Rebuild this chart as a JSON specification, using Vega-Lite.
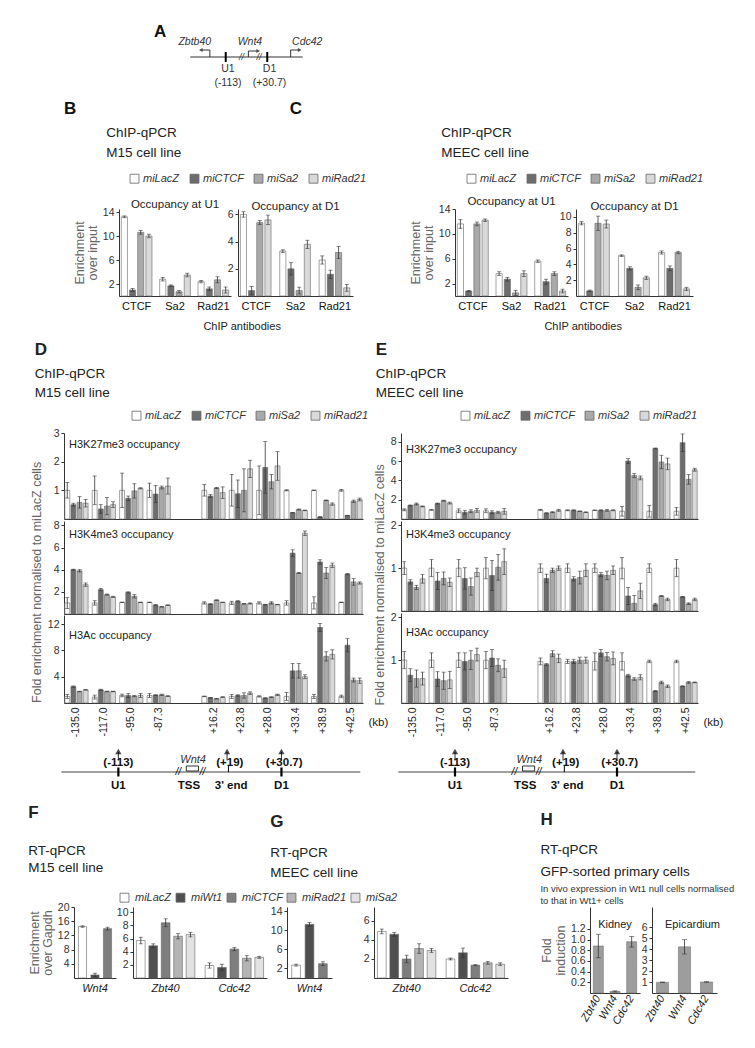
{
"$schema": "https://vega.github.io/schema/vega-lite/v6.json",
"background": "white",
"padding": 0,
"spacing": 8,
"config": {
 "view": {"stroke": null},
 "font": "Liberation Sans",
 "axis": {"grid": false, "labelFont": "Liberation Sans", "titleFont": "Liberation Sans", "labelFontSize": 10.5, "labelColor": "#333", "domainColor": "#333", "tickColor": "#333", "tickSize": 3, "labelPadding": 2, "titleFontWeight": "normal", "titleColor": "#666", "titleFontSize": 12.5, "titlePadding": 3},
 "title": {"font": "Liberation Sans", "subtitleFont": "Liberation Sans", "fontWeight": "normal", "color": "#222", "subtitleColor": "#222"},
 "legend": {"labelFont": "Liberation Sans"}
},
"resolve": {"scale": {"color": "independent", "xOffset": "independent"}, "legend": {"color": "independent"}},
"datasets": {
 "sch": [
  {"k":"seg","x":24.8,"x2":39.7,"y":5.7,"y2":5.7},
  {"k":"seg","x":27.4,"x2":27.4,"y":5.7,"y2":5.0},
  {"k":"seg","x":27.4,"x2":26.4,"y":5.0,"y2":5.0},
  {"k":"seg","x":32.5,"x2":32.5,"y":5.7,"y2":5.1},
  {"k":"seg","x":32.5,"x2":33.6,"y":5.1,"y2":5.1},
  {"k":"seg","x":38.1,"x2":38.1,"y":5.7,"y2":5.0},
  {"k":"seg","x":38.1,"x2":39.1,"y":5.0,"y2":5.0},
  {"k":"site","x":29.5,"x2":29.5,"y":5.2,"y2":6.2},
  {"k":"site","x":35.0,"x2":35.0,"y":5.2,"y2":6.2},
  {"k":"hl","x":26.2,"y":5.0},
  {"k":"hr","x":33.8,"y":5.1},
  {"k":"hr","x":39.3,"y":5.0},
  {"k":"letter","x":20.8,"y":3.2,"t":"A"},
  {"k":"letter","x":8.9,"y":10.9,"t":"B"},
  {"k":"letter","x":38.8,"y":10.9,"t":"C"},
  {"k":"gene","x":25.4,"y":4.2,"t":"Zbtb40"},
  {"k":"gene","x":32.7,"y":4.2,"t":"Wnt4"},
  {"k":"gene","x":40.3,"y":4.2,"t":"Cdc42"},
  {"k":"lab","x":29.8,"y":6.9,"t":"U1"},
  {"k":"lab","x":29.8,"y":8.3,"t":"(-113)"},
  {"k":"lab","x":35.3,"y":6.9,"t":"D1"},
  {"k":"lab","x":35.3,"y":8.3,"t":"(+30.7)"},
  {"k":"brk","x":31.6,"y":5.7,"t":"//"},
  {"k":"brk","x":33.9,"y":5.7,"t":"//"}
 ],
 "diag": [
  {"k":"line","x":-0.1,"x2":10.9,"y":0,"y2":0},
  {"k":"site","x":2.0,"x2":2.0,"y":-0.9,"y2":0.9},
  {"k":"site","x":8.0,"x2":8.0,"y":-0.9,"y2":0.9},
  {"k":"thin","x":6.05,"x2":6.05,"y":0,"y2":1.2},
  {"k":"arrow","x":2.0,"y":2.3,"y2":4.0},
  {"k":"arrow","x":6.0,"y":2.3,"y2":4.0},
  {"k":"arrow","x":8.0,"y":2.3,"y2":4.0},
  {"k":"head","x":2.0,"y":4.1},
  {"k":"head","x":6.0,"y":4.1},
  {"k":"head","x":8.0,"y":4.1},
  {"k":"box","x":4.5,"x2":4.95,"y":0.2,"y2":1.2},
  {"k":"brk","x":4.2,"y":0,"t":"//"},
  {"k":"brk","x":5.1,"y":0,"t":"//"},
  {"k":"lab","x":2.0,"y":1.8,"t":"(-113)"},
  {"k":"lab","x":2.0,"y":-2.7,"t":"U1"},
  {"k":"lab","x":4.6,"y":-2.7,"t":"TSS"},
  {"k":"lab","x":6.15,"y":-2.7,"t":"3' end"},
  {"k":"lab","x":6.1,"y":1.8,"t":"(+19)"},
  {"k":"lab","x":8.1,"y":1.8,"t":"(+30.7)"},
  {"k":"lab","x":8.0,"y":-2.7,"t":"D1"},
  {"k":"gene","x":4.75,"y":2.4,"t":"Wnt4"}
 ],
 "chip": [
  {"p":"BU1","g":"CTCF","s":"miLacZ","v":13.2,"e":0.15},{"p":"BU1","g":"CTCF","s":"miCTCF","v":1.0,"e":0.25},{"p":"BU1","g":"CTCF","s":"miSa2","v":10.6,"e":0.3},{"p":"BU1","g":"CTCF","s":"miRad21","v":10.0,"e":0.3},
  {"p":"BU1","g":"Sa2","s":"miLacZ","v":2.8,"e":0.3},{"p":"BU1","g":"Sa2","s":"miCTCF","v":1.7,"e":0.15},{"p":"BU1","g":"Sa2","s":"miSa2","v":0.7,"e":0.2},{"p":"BU1","g":"Sa2","s":"miRad21","v":3.5,"e":0.3},
  {"p":"BU1","g":"Rad21","s":"miLacZ","v":2.4,"e":0.2},{"p":"BU1","g":"Rad21","s":"miCTCF","v":1.2,"e":0.3},{"p":"BU1","g":"Rad21","s":"miSa2","v":2.7,"e":0.5},{"p":"BU1","g":"Rad21","s":"miRad21","v":1.0,"e":0.5},
  {"p":"BD1","g":"CTCF","s":"miLacZ","v":6.0,"e":0.2},{"p":"BD1","g":"CTCF","s":"miCTCF","v":0.4,"e":0.3},{"p":"BD1","g":"CTCF","s":"miSa2","v":5.4,"e":0.15},{"p":"BD1","g":"CTCF","s":"miRad21","v":5.6,"e":0.35},
  {"p":"BD1","g":"Sa2","s":"miLacZ","v":3.3,"e":0.1},{"p":"BD1","g":"Sa2","s":"miCTCF","v":2.0,"e":0.45},{"p":"BD1","g":"Sa2","s":"miSa2","v":0.4,"e":0.25},{"p":"BD1","g":"Sa2","s":"miRad21","v":3.8,"e":0.3},
  {"p":"BD1","g":"Rad21","s":"miLacZ","v":2.65,"e":0.3},{"p":"BD1","g":"Rad21","s":"miCTCF","v":1.6,"e":0.3},{"p":"BD1","g":"Rad21","s":"miSa2","v":3.2,"e":0.45},{"p":"BD1","g":"Rad21","s":"miRad21","v":0.6,"e":0.25},
  {"p":"CU1","g":"CTCF","s":"miLacZ","v":11.6,"e":0.7},{"p":"CU1","g":"CTCF","s":"miCTCF","v":0.8,"e":0.1},{"p":"CU1","g":"CTCF","s":"miSa2","v":11.6,"e":0.3},{"p":"CU1","g":"CTCF","s":"miRad21","v":12.2,"e":0.2},
  {"p":"CU1","g":"Sa2","s":"miLacZ","v":3.6,"e":0.3},{"p":"CU1","g":"Sa2","s":"miCTCF","v":2.7,"e":0.3},{"p":"CU1","g":"Sa2","s":"miSa2","v":0.5,"e":0.4},{"p":"CU1","g":"Sa2","s":"miRad21","v":3.6,"e":0.45},
  {"p":"CU1","g":"Rad21","s":"miLacZ","v":5.6,"e":0.2},{"p":"CU1","g":"Rad21","s":"miCTCF","v":2.3,"e":0.4},{"p":"CU1","g":"Rad21","s":"miSa2","v":3.6,"e":0.3},{"p":"CU1","g":"Rad21","s":"miRad21","v":0.8,"e":0.3},
  {"p":"CD1","g":"CTCF","s":"miLacZ","v":9.2,"e":0.2},{"p":"CD1","g":"CTCF","s":"miCTCF","v":0.65,"e":0.1},{"p":"CD1","g":"CTCF","s":"miSa2","v":9.2,"e":0.9},{"p":"CD1","g":"CTCF","s":"miRad21","v":9.1,"e":0.5},
  {"p":"CD1","g":"Sa2","s":"miLacZ","v":5.1,"e":0.1},{"p":"CD1","g":"Sa2","s":"miCTCF","v":3.5,"e":0.2},{"p":"CD1","g":"Sa2","s":"miSa2","v":1.1,"e":0.3},{"p":"CD1","g":"Sa2","s":"miRad21","v":2.3,"e":0.2},
  {"p":"CD1","g":"Rad21","s":"miLacZ","v":5.5,"e":0.2},{"p":"CD1","g":"Rad21","s":"miCTCF","v":3.5,"e":0.3},{"p":"CD1","g":"Rad21","s":"miSa2","v":5.5,"e":0.15},{"p":"CD1","g":"Rad21","s":"miRad21","v":0.9,"e":0.2},

  {"p":"DK27","g":"-135.0","s":"miLacZ","v":1.0,"e":0.27},{"p":"DK27","g":"-135.0","s":"miCTCF","v":0.5,"e":0.05},{"p":"DK27","g":"-135.0","s":"miSa2","v":0.58,"e":0.2},{"p":"DK27","g":"-135.0","s":"miRad21","v":0.55,"e":0.13},
  {"p":"DK27","g":"-117.0","s":"miLacZ","v":1.0,"e":0.5},{"p":"DK27","g":"-117.0","s":"miCTCF","v":0.35,"e":0.15},{"p":"DK27","g":"-117.0","s":"miSa2","v":0.45,"e":0.3},{"p":"DK27","g":"-117.0","s":"miRad21","v":0.5,"e":0.1},
  {"p":"DK27","g":"-95.0","s":"miLacZ","v":1.0,"e":0.6},{"p":"DK27","g":"-95.0","s":"miCTCF","v":0.72,"e":0.08},{"p":"DK27","g":"-95.0","s":"miSa2","v":0.98,"e":0.25},{"p":"DK27","g":"-95.0","s":"miRad21","v":1.07,"e":0.02},
  {"p":"DK27","g":"-87.3","s":"miLacZ","v":1.0,"e":0.25},{"p":"DK27","g":"-87.3","s":"miCTCF","v":0.87,"e":0.3},{"p":"DK27","g":"-87.3","s":"miSa2","v":1.1,"e":0.05},{"p":"DK27","g":"-87.3","s":"miRad21","v":1.15,"e":0.28},
  {"p":"DK27","g":"+16.2","s":"miLacZ","v":1.0,"e":0.2},{"p":"DK27","g":"+16.2","s":"miCTCF","v":0.8,"e":0.05},{"p":"DK27","g":"+16.2","s":"miSa2","v":1.08,"e":0.02},{"p":"DK27","g":"+16.2","s":"miRad21","v":0.92,"e":0.2},
  {"p":"DK27","g":"+23.8","s":"miLacZ","v":1.0,"e":0.55},{"p":"DK27","g":"+23.8","s":"miCTCF","v":0.88,"e":0.48},{"p":"DK27","g":"+23.8","s":"miSa2","v":1.0,"e":0.75},{"p":"DK27","g":"+23.8","s":"miRad21","v":1.75,"e":0.3},
  {"p":"DK27","g":"+28.0","s":"miLacZ","v":1.0,"e":0.85},{"p":"DK27","g":"+28.0","s":"miCTCF","v":1.8,"e":0.9},{"p":"DK27","g":"+28.0","s":"miSa2","v":1.3,"e":0.25},{"p":"DK27","g":"+28.0","s":"miRad21","v":1.85,"e":0.5},
  {"p":"DK27","g":"+33.4","s":"miLacZ","v":1.0,"e":0.02},{"p":"DK27","g":"+33.4","s":"miCTCF","v":0.22,"e":0.01},{"p":"DK27","g":"+33.4","s":"miSa2","v":0.33,"e":0.02},{"p":"DK27","g":"+33.4","s":"miRad21","v":0.3,"e":0.01},
  {"p":"DK27","g":"+38.9","s":"miLacZ","v":1.0,"e":0.01},{"p":"DK27","g":"+38.9","s":"miCTCF","v":0.07,"e":0.01},{"p":"DK27","g":"+38.9","s":"miSa2","v":0.65,"e":0.01},{"p":"DK27","g":"+38.9","s":"miRad21","v":0.52,"e":0.04},
  {"p":"DK27","g":"+42.5","s":"miLacZ","v":1.0,"e":0.03},{"p":"DK27","g":"+42.5","s":"miCTCF","v":0.12,"e":0.01},{"p":"DK27","g":"+42.5","s":"miSa2","v":0.62,"e":0.04},{"p":"DK27","g":"+42.5","s":"miRad21","v":0.68,"e":0.05},

  {"p":"DK4","g":"-135.0","s":"miLacZ","v":1.0,"e":0.5},{"p":"DK4","g":"-135.0","s":"miCTCF","v":4.0,"e":0.05},{"p":"DK4","g":"-135.0","s":"miSa2","v":3.9,"e":0.1},{"p":"DK4","g":"-135.0","s":"miRad21","v":2.65,"e":0.15},
  {"p":"DK4","g":"-117.0","s":"miLacZ","v":1.0,"e":0.2},{"p":"DK4","g":"-117.0","s":"miCTCF","v":2.2,"e":0.1},{"p":"DK4","g":"-117.0","s":"miSa2","v":1.75,"e":0.05},{"p":"DK4","g":"-117.0","s":"miRad21","v":1.55,"e":0.05},
  {"p":"DK4","g":"-95.0","s":"miLacZ","v":1.05,"e":0.02},{"p":"DK4","g":"-95.0","s":"miCTCF","v":1.95,"e":0.05},{"p":"DK4","g":"-95.0","s":"miSa2","v":1.6,"e":0.15},{"p":"DK4","g":"-95.0","s":"miRad21","v":1.05,"e":0.02},
  {"p":"DK4","g":"-87.3","s":"miLacZ","v":1.05,"e":0.02},{"p":"DK4","g":"-87.3","s":"miCTCF","v":0.8,"e":0.05},{"p":"DK4","g":"-87.3","s":"miSa2","v":0.65,"e":0.03},{"p":"DK4","g":"-87.3","s":"miRad21","v":0.8,"e":0.02},
  {"p":"DK4","g":"+16.2","s":"miLacZ","v":1.0,"e":0.1},{"p":"DK4","g":"+16.2","s":"miCTCF","v":0.9,"e":0.03},{"p":"DK4","g":"+16.2","s":"miSa2","v":1.25,"e":0.03},{"p":"DK4","g":"+16.2","s":"miRad21","v":1.05,"e":0.02},
  {"p":"DK4","g":"+23.8","s":"miLacZ","v":1.0,"e":0.15},{"p":"DK4","g":"+23.8","s":"miCTCF","v":1.15,"e":0.05},{"p":"DK4","g":"+23.8","s":"miSa2","v":0.92,"e":0.03},{"p":"DK4","g":"+23.8","s":"miRad21","v":0.95,"e":0.05},
  {"p":"DK4","g":"+28.0","s":"miLacZ","v":1.0,"e":0.1},{"p":"DK4","g":"+28.0","s":"miCTCF","v":0.85,"e":0.03},{"p":"DK4","g":"+28.0","s":"miSa2","v":1.0,"e":0.1},{"p":"DK4","g":"+28.0","s":"miRad21","v":0.85,"e":0.02},
  {"p":"DK4","g":"+33.4","s":"miLacZ","v":1.0,"e":0.2},{"p":"DK4","g":"+33.4","s":"miCTCF","v":5.5,"e":0.3},{"p":"DK4","g":"+33.4","s":"miSa2","v":3.7,"e":0.05},{"p":"DK4","g":"+33.4","s":"miRad21","v":7.3,"e":0.2},
  {"p":"DK4","g":"+38.9","s":"miLacZ","v":1.0,"e":0.55},{"p":"DK4","g":"+38.9","s":"miCTCF","v":4.7,"e":0.2},{"p":"DK4","g":"+38.9","s":"miSa2","v":3.7,"e":0.5},{"p":"DK4","g":"+38.9","s":"miRad21","v":4.4,"e":0.2},
  {"p":"DK4","g":"+42.5","s":"miLacZ","v":1.05,"e":0.02},{"p":"DK4","g":"+42.5","s":"miCTCF","v":3.6,"e":0.05},{"p":"DK4","g":"+42.5","s":"miSa2","v":2.9,"e":0.3},{"p":"DK4","g":"+42.5","s":"miRad21","v":2.8,"e":0.1},

  {"p":"DAc","g":"-135.0","s":"miLacZ","v":1.0,"e":0.3},{"p":"DAc","g":"-135.0","s":"miCTCF","v":2.5,"e":0.1},{"p":"DAc","g":"-135.0","s":"miSa2","v":1.75,"e":0.05},{"p":"DAc","g":"-135.0","s":"miRad21","v":2.0,"e":0.05},
  {"p":"DAc","g":"-117.0","s":"miLacZ","v":0.9,"e":0.3},{"p":"DAc","g":"-117.0","s":"miCTCF","v":2.0,"e":0.1},{"p":"DAc","g":"-117.0","s":"miSa2","v":1.75,"e":0.05},{"p":"DAc","g":"-117.0","s":"miRad21","v":1.75,"e":0.05},
  {"p":"DAc","g":"-95.0","s":"miLacZ","v":1.15,"e":0.2},{"p":"DAc","g":"-95.0","s":"miCTCF","v":1.15,"e":0.3},{"p":"DAc","g":"-95.0","s":"miSa2","v":1.05,"e":0.1},{"p":"DAc","g":"-95.0","s":"miRad21","v":1.15,"e":0.3},
  {"p":"DAc","g":"-87.3","s":"miLacZ","v":1.15,"e":0.3},{"p":"DAc","g":"-87.3","s":"miCTCF","v":1.2,"e":0.05},{"p":"DAc","g":"-87.3","s":"miSa2","v":1.25,"e":0.1},{"p":"DAc","g":"-87.3","s":"miRad21","v":1.05,"e":0.05},
  {"p":"DAc","g":"+16.2","s":"miLacZ","v":1.0,"e":0.05},{"p":"DAc","g":"+16.2","s":"miCTCF","v":0.8,"e":0.05},{"p":"DAc","g":"+16.2","s":"miSa2","v":0.65,"e":0.05},{"p":"DAc","g":"+16.2","s":"miRad21","v":0.9,"e":0.05},
  {"p":"DAc","g":"+23.8","s":"miLacZ","v":1.0,"e":0.3},{"p":"DAc","g":"+23.8","s":"miCTCF","v":1.15,"e":0.1},{"p":"DAc","g":"+23.8","s":"miSa2","v":1.15,"e":0.4},{"p":"DAc","g":"+23.8","s":"miRad21","v":1.5,"e":0.2},
  {"p":"DAc","g":"+28.0","s":"miLacZ","v":1.0,"e":0.1},{"p":"DAc","g":"+28.0","s":"miCTCF","v":0.75,"e":0.05},{"p":"DAc","g":"+28.0","s":"miSa2","v":0.9,"e":0.05},{"p":"DAc","g":"+28.0","s":"miRad21","v":1.25,"e":0.1},
  {"p":"DAc","g":"+33.4","s":"miLacZ","v":1.0,"e":0.6},{"p":"DAc","g":"+33.4","s":"miCTCF","v":4.9,"e":1.1},{"p":"DAc","g":"+33.4","s":"miSa2","v":4.9,"e":1.1},{"p":"DAc","g":"+33.4","s":"miRad21","v":4.0,"e":0.3},
  {"p":"DAc","g":"+38.9","s":"miLacZ","v":1.0,"e":0.3},{"p":"DAc","g":"+38.9","s":"miCTCF","v":11.5,"e":0.6},{"p":"DAc","g":"+38.9","s":"miSa2","v":7.1,"e":0.7},{"p":"DAc","g":"+38.9","s":"miRad21","v":7.4,"e":0.7},
  {"p":"DAc","g":"+42.5","s":"miLacZ","v":1.0,"e":0.2},{"p":"DAc","g":"+42.5","s":"miCTCF","v":8.8,"e":1.0},{"p":"DAc","g":"+42.5","s":"miSa2","v":3.5,"e":0.3},{"p":"DAc","g":"+42.5","s":"miRad21","v":3.4,"e":0.4},

  {"p":"EK27","g":"-135.0","s":"miLacZ","v":0.95,"e":0.1},{"p":"EK27","g":"-135.0","s":"miCTCF","v":1.4,"e":0.05},{"p":"EK27","g":"-135.0","s":"miSa2","v":1.55,"e":0.1},{"p":"EK27","g":"-135.0","s":"miRad21","v":1.3,"e":0.05},
  {"p":"EK27","g":"-117.0","s":"miLacZ","v":0.95,"e":0.05},{"p":"EK27","g":"-117.0","s":"miCTCF","v":1.6,"e":0.05},{"p":"EK27","g":"-117.0","s":"miSa2","v":1.9,"e":0.05},{"p":"EK27","g":"-117.0","s":"miRad21","v":1.65,"e":0.1},
  {"p":"EK27","g":"-95.0","s":"miLacZ","v":0.85,"e":0.2},{"p":"EK27","g":"-95.0","s":"miCTCF","v":0.7,"e":0.2},{"p":"EK27","g":"-95.0","s":"miSa2","v":0.8,"e":0.15},{"p":"EK27","g":"-95.0","s":"miRad21","v":0.9,"e":0.2},
  {"p":"EK27","g":"-87.3","s":"miLacZ","v":0.85,"e":0.2},{"p":"EK27","g":"-87.3","s":"miCTCF","v":0.7,"e":0.15},{"p":"EK27","g":"-87.3","s":"miSa2","v":0.7,"e":0.1},{"p":"EK27","g":"-87.3","s":"miRad21","v":0.8,"e":0.3},
  {"p":"EK27","g":"+16.2","s":"miLacZ","v":0.95,"e":0.05},{"p":"EK27","g":"+16.2","s":"miCTCF","v":0.6,"e":0.05},{"p":"EK27","g":"+16.2","s":"miSa2","v":0.7,"e":0.05},{"p":"EK27","g":"+16.2","s":"miRad21","v":0.9,"e":0.1},
  {"p":"EK27","g":"+23.8","s":"miLacZ","v":0.9,"e":0.05},{"p":"EK27","g":"+23.8","s":"miCTCF","v":0.9,"e":0.05},{"p":"EK27","g":"+23.8","s":"miSa2","v":0.8,"e":0.03},{"p":"EK27","g":"+23.8","s":"miRad21","v":0.7,"e":0.03},
  {"p":"EK27","g":"+28.0","s":"miLacZ","v":0.9,"e":0.03},{"p":"EK27","g":"+28.0","s":"miCTCF","v":0.9,"e":0.05},{"p":"EK27","g":"+28.0","s":"miSa2","v":0.9,"e":0.1},{"p":"EK27","g":"+28.0","s":"miRad21","v":0.9,"e":0.05},
  {"p":"EK27","g":"+33.4","s":"miLacZ","v":0.8,"e":0.5},{"p":"EK27","g":"+33.4","s":"miCTCF","v":6.0,"e":0.25},{"p":"EK27","g":"+33.4","s":"miSa2","v":4.5,"e":0.2},{"p":"EK27","g":"+33.4","s":"miRad21","v":4.25,"e":0.2},
  {"p":"EK27","g":"+38.9","s":"miLacZ","v":0.8,"e":0.6},{"p":"EK27","g":"+38.9","s":"miCTCF","v":7.3,"e":0.05},{"p":"EK27","g":"+38.9","s":"miSa2","v":5.9,"e":0.7},{"p":"EK27","g":"+38.9","s":"miRad21","v":5.7,"e":0.6},
  {"p":"EK27","g":"+42.5","s":"miLacZ","v":0.8,"e":0.4},{"p":"EK27","g":"+42.5","s":"miCTCF","v":7.9,"e":0.9},{"p":"EK27","g":"+42.5","s":"miSa2","v":4.1,"e":0.5},{"p":"EK27","g":"+42.5","s":"miRad21","v":5.1,"e":0.15},

  {"p":"EK4","g":"-135.0","s":"miLacZ","v":1.0,"e":0.15},{"p":"EK4","g":"-135.0","s":"miCTCF","v":0.68,"e":0.05},{"p":"EK4","g":"-135.0","s":"miSa2","v":0.55,"e":0.05},{"p":"EK4","g":"-135.0","s":"miRad21","v":0.75,"e":0.1},
  {"p":"EK4","g":"-117.0","s":"miLacZ","v":1.0,"e":0.2},{"p":"EK4","g":"-117.0","s":"miCTCF","v":0.7,"e":0.2},{"p":"EK4","g":"-117.0","s":"miSa2","v":0.76,"e":0.15},{"p":"EK4","g":"-117.0","s":"miRad21","v":0.67,"e":0.1},
  {"p":"EK4","g":"-95.0","s":"miLacZ","v":1.0,"e":0.2},{"p":"EK4","g":"-95.0","s":"miCTCF","v":0.76,"e":0.25},{"p":"EK4","g":"-95.0","s":"miSa2","v":0.57,"e":0.2},{"p":"EK4","g":"-95.0","s":"miRad21","v":0.9,"e":0.1},
  {"p":"EK4","g":"-87.3","s":"miLacZ","v":1.0,"e":0.25},{"p":"EK4","g":"-87.3","s":"miCTCF","v":0.83,"e":0.35},{"p":"EK4","g":"-87.3","s":"miSa2","v":1.02,"e":0.3},{"p":"EK4","g":"-87.3","s":"miRad21","v":1.15,"e":0.3},
  {"p":"EK4","g":"+16.2","s":"miLacZ","v":1.0,"e":0.1},{"p":"EK4","g":"+16.2","s":"miCTCF","v":0.76,"e":0.1},{"p":"EK4","g":"+16.2","s":"miSa2","v":0.95,"e":0.05},{"p":"EK4","g":"+16.2","s":"miRad21","v":1.0,"e":0.05},
  {"p":"EK4","g":"+23.8","s":"miLacZ","v":1.0,"e":0.1},{"p":"EK4","g":"+23.8","s":"miCTCF","v":0.75,"e":0.05},{"p":"EK4","g":"+23.8","s":"miSa2","v":0.78,"e":0.15},{"p":"EK4","g":"+23.8","s":"miRad21","v":0.95,"e":0.15},
  {"p":"EK4","g":"+28.0","s":"miLacZ","v":1.0,"e":0.1},{"p":"EK4","g":"+28.0","s":"miCTCF","v":0.85,"e":0.05},{"p":"EK4","g":"+28.0","s":"miSa2","v":0.83,"e":0.1},{"p":"EK4","g":"+28.0","s":"miRad21","v":0.95,"e":0.1},
  {"p":"EK4","g":"+33.4","s":"miLacZ","v":1.0,"e":0.25},{"p":"EK4","g":"+33.4","s":"miCTCF","v":0.35,"e":0.2},{"p":"EK4","g":"+33.4","s":"miSa2","v":0.18,"e":0.18},{"p":"EK4","g":"+33.4","s":"miRad21","v":0.47,"e":0.18},
  {"p":"EK4","g":"+38.9","s":"miLacZ","v":1.0,"e":0.1},{"p":"EK4","g":"+38.9","s":"miCTCF","v":0.15,"e":0.03},{"p":"EK4","g":"+38.9","s":"miSa2","v":0.35,"e":0.01},{"p":"EK4","g":"+38.9","s":"miRad21","v":0.27,"e":0.03},
  {"p":"EK4","g":"+42.5","s":"miLacZ","v":1.0,"e":0.2},{"p":"EK4","g":"+42.5","s":"miCTCF","v":0.33,"e":0.01},{"p":"EK4","g":"+42.5","s":"miSa2","v":0.17,"e":0.02},{"p":"EK4","g":"+42.5","s":"miRad21","v":0.27,"e":0.03},

  {"p":"EAc","g":"-135.0","s":"miLacZ","v":1.0,"e":0.2},{"p":"EAc","g":"-135.0","s":"miCTCF","v":0.65,"e":0.15},{"p":"EAc","g":"-135.0","s":"miSa2","v":0.57,"e":0.2},{"p":"EAc","g":"-135.0","s":"miRad21","v":0.57,"e":0.15},
  {"p":"EAc","g":"-117.0","s":"miLacZ","v":1.0,"e":0.17},{"p":"EAc","g":"-117.0","s":"miCTCF","v":0.56,"e":0.17},{"p":"EAc","g":"-117.0","s":"miSa2","v":0.52,"e":0.2},{"p":"EAc","g":"-117.0","s":"miRad21","v":0.54,"e":0.2},
  {"p":"EAc","g":"-95.0","s":"miLacZ","v":1.0,"e":0.17},{"p":"EAc","g":"-95.0","s":"miCTCF","v":0.97,"e":0.2},{"p":"EAc","g":"-95.0","s":"miSa2","v":1.0,"e":0.22},{"p":"EAc","g":"-95.0","s":"miRad21","v":1.13,"e":0.15},
  {"p":"EAc","g":"-87.3","s":"miLacZ","v":1.0,"e":0.2},{"p":"EAc","g":"-87.3","s":"miCTCF","v":1.05,"e":0.2},{"p":"EAc","g":"-87.3","s":"miSa2","v":0.88,"e":0.15},{"p":"EAc","g":"-87.3","s":"miRad21","v":0.8,"e":0.2},
  {"p":"EAc","g":"+16.2","s":"miLacZ","v":0.97,"e":0.08},{"p":"EAc","g":"+16.2","s":"miCTCF","v":0.9,"e":0.02},{"p":"EAc","g":"+16.2","s":"miSa2","v":1.15,"e":0.07},{"p":"EAc","g":"+16.2","s":"miRad21","v":1.04,"e":0.1},
  {"p":"EAc","g":"+23.8","s":"miLacZ","v":0.97,"e":0.05},{"p":"EAc","g":"+23.8","s":"miCTCF","v":0.97,"e":0.05},{"p":"EAc","g":"+23.8","s":"miSa2","v":1.0,"e":0.07},{"p":"EAc","g":"+23.8","s":"miRad21","v":1.0,"e":0.07},
  {"p":"EAc","g":"+28.0","s":"miLacZ","v":0.97,"e":0.2},{"p":"EAc","g":"+28.0","s":"miCTCF","v":1.17,"e":0.08},{"p":"EAc","g":"+28.0","s":"miSa2","v":1.08,"e":0.1},{"p":"EAc","g":"+28.0","s":"miRad21","v":1.04,"e":0.15},
  {"p":"EAc","g":"+33.4","s":"miLacZ","v":0.97,"e":0.2},{"p":"EAc","g":"+33.4","s":"miCTCF","v":0.64,"e":0.03},{"p":"EAc","g":"+33.4","s":"miSa2","v":0.56,"e":0.03},{"p":"EAc","g":"+33.4","s":"miRad21","v":0.6,"e":0.06},
  {"p":"EAc","g":"+38.9","s":"miLacZ","v":0.97,"e":0.03},{"p":"EAc","g":"+38.9","s":"miCTCF","v":0.28,"e":0.01},{"p":"EAc","g":"+38.9","s":"miSa2","v":0.48,"e":0.03},{"p":"EAc","g":"+38.9","s":"miRad21","v":0.39,"e":0.03},
  {"p":"EAc","g":"+42.5","s":"miLacZ","v":0.97,"e":0.03},{"p":"EAc","g":"+42.5","s":"miCTCF","v":0.39,"e":0.01},{"p":"EAc","g":"+42.5","s":"miSa2","v":0.48,"e":0.02},{"p":"EAc","g":"+42.5","s":"miRad21","v":0.48,"e":0.01}
 ],
 "rt": [
  {"p":"FW","g":"Wnt4","s":"miLacZ","v":14.5,"e":0.2},{"p":"FW","g":"Wnt4","s":"miWt1","v":0.85,"e":0.5},{"p":"FW","g":"Wnt4","s":"miCTCF","v":13.9,"e":0.4},
  {"p":"FZ","g":"Zbt40","s":"miLacZ","v":5.7,"e":0.5},{"p":"FZ","g":"Zbt40","s":"miWt1","v":4.9,"e":0.3},{"p":"FZ","g":"Zbt40","s":"miCTCF","v":8.4,"e":0.6},{"p":"FZ","g":"Zbt40","s":"miRad21","v":6.35,"e":0.4},{"p":"FZ","g":"Zbt40","s":"miSa2","v":6.6,"e":0.35},
  {"p":"FZ","g":"Cdc42","s":"miLacZ","v":1.9,"e":0.4},{"p":"FZ","g":"Cdc42","s":"miWt1","v":1.6,"e":0.5},{"p":"FZ","g":"Cdc42","s":"miCTCF","v":4.4,"e":0.25},{"p":"FZ","g":"Cdc42","s":"miRad21","v":3.0,"e":0.4},{"p":"FZ","g":"Cdc42","s":"miSa2","v":3.15,"e":0.15},
  {"p":"GW","g":"Wnt4","s":"miLacZ","v":2.7,"e":0.2},{"p":"GW","g":"Wnt4","s":"miWt1","v":11.25,"e":0.4},{"p":"GW","g":"Wnt4","s":"miCTCF","v":3.0,"e":0.4},
  {"p":"GZ","g":"Zbt40","s":"miLacZ","v":4.9,"e":0.25},{"p":"GZ","g":"Zbt40","s":"miWt1","v":4.6,"e":0.2},{"p":"GZ","g":"Zbt40","s":"miCTCF","v":2.0,"e":0.4},{"p":"GZ","g":"Zbt40","s":"miRad21","v":3.1,"e":0.5},{"p":"GZ","g":"Zbt40","s":"miSa2","v":2.9,"e":0.2},
  {"p":"GZ","g":"Cdc42","s":"miLacZ","v":2.0,"e":0.1},{"p":"GZ","g":"Cdc42","s":"miWt1","v":2.65,"e":0.5},{"p":"GZ","g":"Cdc42","s":"miCTCF","v":1.35,"e":0.05},{"p":"GZ","g":"Cdc42","s":"miRad21","v":1.6,"e":0.15},{"p":"GZ","g":"Cdc42","s":"miSa2","v":1.45,"e":0.15}
 ],
 "hd": [
  {"p":"Kidney","g":"Zbt40","v":0.88,"e":0.22},{"p":"Kidney","g":"Wnt4","v":0.03,"e":0.01},{"p":"Kidney","g":"Cdc42","v":0.96,"e":0.1},
  {"p":"Epicardium","g":"Zbt40","v":0.97,"e":0.03},{"p":"Epicardium","g":"Wnt4","v":4.2,"e":0.65},{"p":"Epicardium","g":"Cdc42","v":1.0,"e":0.02}
 ]
},
"vconcat": [
 {
  "width": 755, "height": 112,
  "data": {"name": "sch"},
  "encoding": {
   "x": {"field": "x", "type": "quantitative", "scale": {"domain": [0, 100]}, "axis": null},
   "y": {"field": "y", "type": "quantitative", "scale": {"domain": [0, 11.2], "reverse": true}, "axis": null}
  },
  "layer": [
   {"transform": [{"filter": "datum.k == 'seg'"}], "mark": {"type": "rule", "color": "#333", "strokeWidth": 1}, "encoding": {"x2": {"field": "x2"}, "y2": {"field": "y2"}}},
   {"transform": [{"filter": "datum.k == 'site'"}], "mark": {"type": "rule", "color": "#000", "strokeWidth": 2}, "encoding": {"x2": {"field": "x2"}, "y2": {"field": "y2"}}},
   {"transform": [{"filter": "datum.k == 'hl'"}], "mark": {"type": "point", "shape": "triangle-left", "filled": true, "color": "#000", "size": 18}},
   {"transform": [{"filter": "datum.k == 'hr'"}], "mark": {"type": "point", "shape": "triangle-right", "filled": true, "color": "#000", "size": 18}},
   {"transform": [{"filter": "datum.k == 'letter'"}], "mark": {"type": "text", "fontSize": 17, "fontWeight": "bold", "color": "#111"}, "encoding": {"text": {"field": "t"}}},
   {"transform": [{"filter": "datum.k == 'gene'"}], "mark": {"type": "text", "fontSize": 10.5, "fontStyle": "italic", "color": "#333"}, "encoding": {"text": {"field": "t"}}},
   {"transform": [{"filter": "datum.k == 'lab'"}], "mark": {"type": "text", "fontSize": 10.5, "color": "#333"}, "encoding": {"text": {"field": "t"}}},
   {"transform": [{"filter": "datum.k == 'brk'"}], "mark": {"type": "text", "fontSize": 9, "fontStyle": "italic", "color": "#333"}, "encoding": {"text": {"field": "t"}}}
  ]
 },
 {
  "spacing": 42,
  "resolve": {"scale": {"color": "independent", "xOffset": "independent"}, "legend": {"color": "independent"}},
  "hconcat": [
   {"width": 28, "height": 1, "data": {"values": [{"a": 1}]}, "mark": {"type": "point", "opacity": 0}, "encoding": {}},
   {
    "title": {"text": "ChIP-qPCR", "subtitle": "\u00a0\u00a0\u00a0M15 cell line", "anchor": "start", "fontSize": 13.5, "subtitleFontSize": 13.5, "subtitlePadding": 6, "dx": 33, "offset": 14},
    "vconcat": [
     {
      "title": {"text": "ChIP antibodies", "orient": "bottom", "anchor": "middle", "fontSize": 11, "offset": 10, "dx": 29},
      "spacing": -4,
      "hconcat": [
       {
        "width": 112, "height": 87,
        "title": {"text": "Occupancy at U1", "anchor": "middle", "fontSize": 11.5, "offset": -3},
        "data": {"name": "chip"}, "transform": [{"filter": "datum.p == 'BU1'"}],
        "encoding": {
         "x": {"field": "g", "type": "nominal", "sort": ["CTCF", "Sa2", "Rad21"], "scale": {"paddingInner": 0.2, "paddingOuter": 0.06}, "axis": {"title": null, "labelAngle": 0, "ticks": false, "labelFontSize": 11, "labelColor": "#111", "labelPadding": 4}},
         "xOffset": {"field": "s", "type": "nominal", "scale": {"domain": ["miLacZ", "miCTCF", "miSa2", "miRad21"], "paddingInner": 0.25}},
         "y": {"field": "v", "type": "quantitative", "scale": {"domain": [0, 14.5]}, "axis": {"values": [2, 6, 10, 14], "title": ["Enrichment", "over input"], "titleLineHeight": 13}}
        },
        "layer": [
         {"mark": {"type": "bar", "stroke": "#666", "strokeWidth": 0.6}, "encoding": {"color": {"field": "s", "type": "nominal", "scale": {"domain": ["miLacZ", "miCTCF", "miSa2", "miRad21"], "range": ["#ffffff", "#6d6d6d", "#a9a9a9", "#d9d9d9"]}, "legend": {"orient": "none", "legendX": 10, "legendY": -36, "direction": "horizontal", "title": null, "symbolType": "square", "symbolSize": 80, "symbolStrokeColor": "#666", "symbolStrokeWidth": 0.8, "labelFontStyle": "italic", "labelFontSize": 11, "labelColor": "#333", "labelOffset": 3, "columnPadding": 8}}}},
         {"mark": {"type": "errorbar", "ticks": {"size": 4}, "thickness": 0.8, "color": "#333"}, "encoding": {"yError": {"field": "e"}}}
        ]
       },
       {
        "width": 115, "height": 87,
        "title": {"text": "Occupancy at D1", "anchor": "middle", "fontSize": 11.5, "offset": -3},
        "data": {"name": "chip"}, "transform": [{"filter": "datum.p == 'BD1'"}],
        "encoding": {
         "x": {"field": "g", "type": "nominal", "sort": ["CTCF", "Sa2", "Rad21"], "scale": {"paddingInner": 0.2, "paddingOuter": 0.06}, "axis": {"title": null, "labelAngle": 0, "ticks": false, "labelFontSize": 11, "labelColor": "#111", "labelPadding": 4}},
         "xOffset": {"field": "s", "type": "nominal", "scale": {"domain": ["miLacZ", "miCTCF", "miSa2", "miRad21"], "paddingInner": 0.25}},
         "y": {"field": "v", "type": "quantitative", "scale": {"domain": [0, 6.4]}, "axis": {"values": [2, 4, 6], "title": null}}
        },
        "layer": [
         {"mark": {"type": "bar", "stroke": "#666", "strokeWidth": 0.6}, "encoding": {"color": {"field": "s", "type": "nominal", "scale": {"domain": ["miLacZ", "miCTCF", "miSa2", "miRad21"], "range": ["#ffffff", "#6d6d6d", "#a9a9a9", "#d9d9d9"]}}}},
         {"mark": {"type": "errorbar", "ticks": {"size": 4}, "thickness": 0.8, "color": "#333"}, "encoding": {"yError": {"field": "e"}}}
        ]
       }
      ]
     }
    ]
   },
   {
    "title": {"text": "ChIP-qPCR", "subtitle": "\u00a0\u00a0MEEC cell line", "anchor": "start", "fontSize": 13.5, "subtitleFontSize": 13.5, "subtitlePadding": 6, "dx": 32, "offset": 14},
    "vconcat": [
     {
      "title": {"text": "ChIP antibodies", "orient": "bottom", "anchor": "middle", "fontSize": 11, "offset": 10, "dx": 32},
      "spacing": -9,
      "hconcat": [
       {
        "width": 113, "height": 87,
        "title": {"text": "Occupancy at U1", "anchor": "middle", "fontSize": 11.5, "offset": -3},
        "data": {"name": "chip"}, "transform": [{"filter": "datum.p == 'CU1'"}],
        "encoding": {
         "x": {"field": "g", "type": "nominal", "sort": ["CTCF", "Sa2", "Rad21"], "scale": {"paddingInner": 0.2, "paddingOuter": 0.06}, "axis": {"title": null, "labelAngle": 0, "ticks": false, "labelFontSize": 11, "labelColor": "#111", "labelPadding": 4}},
         "xOffset": {"field": "s", "type": "nominal", "scale": {"domain": ["miLacZ", "miCTCF", "miSa2", "miRad21"], "paddingInner": 0.25}},
         "y": {"field": "v", "type": "quantitative", "scale": {"domain": [0, 14]}, "axis": {"values": [2, 6, 10, 14], "title": ["Enrichment", "over input"], "titleLineHeight": 13}}
        },
        "layer": [
         {"mark": {"type": "bar", "stroke": "#666", "strokeWidth": 0.6}, "encoding": {"color": {"field": "s", "type": "nominal", "scale": {"domain": ["miLacZ", "miCTCF", "miSa2", "miRad21"], "range": ["#ffffff", "#6d6d6d", "#a9a9a9", "#d9d9d9"]}, "legend": {"orient": "none", "legendX": 11, "legendY": -36, "direction": "horizontal", "title": null, "symbolType": "square", "symbolSize": 80, "symbolStrokeColor": "#666", "symbolStrokeWidth": 0.8, "labelFontStyle": "italic", "labelFontSize": 11, "labelColor": "#333", "labelOffset": 3, "columnPadding": 8}}}},
         {"mark": {"type": "errorbar", "ticks": {"size": 4}, "thickness": 0.8, "color": "#333"}, "encoding": {"yError": {"field": "e"}}}
        ]
       },
       {
        "width": 117, "height": 87,
        "title": {"text": "Occupancy at D1", "anchor": "middle", "fontSize": 11.5, "offset": -3},
        "data": {"name": "chip"}, "transform": [{"filter": "datum.p == 'CD1'"}],
        "encoding": {
         "x": {"field": "g", "type": "nominal", "sort": ["CTCF", "Sa2", "Rad21"], "scale": {"paddingInner": 0.2, "paddingOuter": 0.06}, "axis": {"title": null, "labelAngle": 0, "ticks": false, "labelFontSize": 11, "labelColor": "#111", "labelPadding": 4}},
         "xOffset": {"field": "s", "type": "nominal", "scale": {"domain": ["miLacZ", "miCTCF", "miSa2", "miRad21"], "paddingInner": 0.25}},
         "y": {"field": "v", "type": "quantitative", "scale": {"domain": [0, 11]}, "axis": {"values": [2, 4, 6, 8, 10], "title": null}}
        },
        "layer": [
         {"mark": {"type": "bar", "stroke": "#666", "strokeWidth": 0.6}, "encoding": {"color": {"field": "s", "type": "nominal", "scale": {"domain": ["miLacZ", "miCTCF", "miSa2", "miRad21"], "range": ["#ffffff", "#6d6d6d", "#a9a9a9", "#d9d9d9"]}}}},
         {"mark": {"type": "errorbar", "ticks": {"size": 4}, "thickness": 0.8, "color": "#333"}, "encoding": {"yError": {"field": "e"}}}
        ]
       }
      ]
     }
    ]
   }
  ]
 },
 {
  "spacing": -15,
  "resolve": {"scale": {"color": "independent", "xOffset": "independent"}, "legend": {"color": "independent"}},
  "hconcat": [
   {"width": 42, "height": 1, "data": {"values": [{"a": 1}]}, "mark": {"type": "point", "opacity": 0}, "encoding": {}},
   {
    "title": {"text": "D", "subtitle": ["ChIP-qPCR", "\u00a0\u00a0M15 cell line"], "anchor": "start", "fontSize": 17, "fontWeight": "bold", "subtitleFontSize": 13.5, "subtitleLineHeight": 19, "subtitlePadding": 8, "offset": 10, "dx": 4},
    "spacing": 11,
    "vconcat": [
     {
      "title": {"text": "Fold enrichment normalised to miLacZ cells", "orient": "left", "anchor": "middle", "fontSize": 12.5, "color": "#666", "offset": 4},
      "spacing": 0,
      "vconcat": [
       {
        "width": 299, "height": 86,
        "title": {"text": "H3K27me3 occupancy", "anchor": "start", "frame": "group", "offset": -22, "dx": 5, "fontSize": 11},
        "data": {"name": "chip"}, "transform": [{"filter": "datum.p == 'DK27'"}],
        "encoding": {
         "x": {"field": "g", "type": "nominal", "scale": {"domain": ["-135.0", "-117.0", "-95.0", "-87.3", "gap", "+16.2", "+23.8", "+28.0", "+33.4", "+38.9", "+42.5"], "paddingInner": 0.15, "paddingOuter": 0.03}, "axis": {"title": null, "labels": false, "ticks": false}},
         "xOffset": {"field": "s", "type": "nominal", "scale": {"domain": ["miLacZ", "miCTCF", "miSa2", "miRad21"], "paddingInner": 0.2}},
         "y": {"field": "v", "type": "quantitative", "scale": {"domain": [0, 3]}, "axis": {"values": [1, 2, 3], "title": null}}
        },
        "layer": [
         {"mark": {"type": "bar", "stroke": "#666", "strokeWidth": 0.6}, "encoding": {"color": {"field": "s", "type": "nominal", "scale": {"domain": ["miLacZ", "miCTCF", "miSa2", "miRad21"], "range": ["#ffffff", "#6d6d6d", "#a9a9a9", "#d9d9d9"]}, "legend": {"orient": "none", "legendX": 67, "legendY": -23, "direction": "horizontal", "title": null, "symbolType": "square", "symbolSize": 80, "symbolStrokeColor": "#666", "symbolStrokeWidth": 0.8, "labelFontStyle": "italic", "labelFontSize": 11, "labelColor": "#333", "labelOffset": 3, "columnPadding": 8}}}},
         {"mark": {"type": "errorbar", "ticks": {"size": 4}, "thickness": 0.8, "color": "#333"}, "encoding": {"yError": {"field": "e"}}}
        ]
       },
       {
        "width": 299, "height": 93,
        "title": {"text": "H3K4me3 occupancy", "anchor": "start", "frame": "group", "offset": -20, "dx": 5, "fontSize": 11},
        "data": {"name": "chip"}, "transform": [{"filter": "datum.p == 'DK4'"}],
        "encoding": {
         "x": {"field": "g", "type": "nominal", "scale": {"domain": ["-135.0", "-117.0", "-95.0", "-87.3", "gap", "+16.2", "+23.8", "+28.0", "+33.4", "+38.9", "+42.5"], "paddingInner": 0.15, "paddingOuter": 0.03}, "axis": {"title": null, "labels": false, "ticks": false}},
         "xOffset": {"field": "s", "type": "nominal", "scale": {"domain": ["miLacZ", "miCTCF", "miSa2", "miRad21"], "paddingInner": 0.2}},
         "y": {"field": "v", "type": "quantitative", "scale": {"domain": [0, 8.4]}, "axis": {"values": [2, 4, 6, 8], "title": null}}
        },
        "layer": [
         {"mark": {"type": "bar", "stroke": "#666", "strokeWidth": 0.6}, "encoding": {"color": {"field": "s", "type": "nominal", "scale": {"domain": ["miLacZ", "miCTCF", "miSa2", "miRad21"], "range": ["#ffffff", "#6d6d6d", "#a9a9a9", "#d9d9d9"]}}}},
         {"mark": {"type": "errorbar", "ticks": {"size": 4}, "thickness": 0.8, "color": "#333"}, "encoding": {"yError": {"field": "e"}}}
        ]
       },
       {
        "width": 299, "height": 88,
        "title": {"text": "H3Ac occupancy", "anchor": "start", "frame": "group", "offset": -26, "dx": 5, "fontSize": 11},
        "data": {"name": "chip"}, "transform": [{"filter": "datum.p == 'DAc'"}],
        "encoding": {
         "x": {"field": "g", "type": "nominal", "scale": {"domain": ["-135.0", "-117.0", "-95.0", "-87.3", "gap", "+16.2", "+23.8", "+28.0", "+33.4", "+38.9", "+42.5"], "paddingInner": 0.15, "paddingOuter": 0.03}, "axis": {"title": "(kb)", "labelAngle": -90, "ticks": false, "labelFontSize": 10.5, "labelColor": "#222", "labelPadding": 4, "labelExpr": "datum.value == 'gap' ? '' : datum.value", "titleAngle": 0, "titleX": 304, "titleY": 19, "titleAlign": "left", "titleBaseline": "middle", "titleColor": "#222", "titleFontSize": 11.5}},
         "xOffset": {"field": "s", "type": "nominal", "scale": {"domain": ["miLacZ", "miCTCF", "miSa2", "miRad21"], "paddingInner": 0.2}},
         "y": {"field": "v", "type": "quantitative", "scale": {"domain": [0, 13.4]}, "axis": {"values": [4, 8, 12], "title": null}}
        },
        "layer": [
         {"mark": {"type": "bar", "stroke": "#666", "strokeWidth": 0.6}, "encoding": {"color": {"field": "s", "type": "nominal", "scale": {"domain": ["miLacZ", "miCTCF", "miSa2", "miRad21"], "range": ["#ffffff", "#6d6d6d", "#a9a9a9", "#d9d9d9"]}}}},
         {"mark": {"type": "errorbar", "ticks": {"size": 4}, "thickness": 0.8, "color": "#333"}, "encoding": {"yError": {"field": "e"}}}
        ]
       }
      ]
     },
     {
      "width": 299, "height": 45,
      "data": {"name": "diag"},
      "encoding": {
       "x": {"field": "x", "type": "quantitative", "scale": {"domain": [0, 11]}, "axis": null},
       "y": {"field": "y", "type": "quantitative", "scale": {"domain": [-4.6, 4.4]}, "axis": null}
      },
      "layer": [
       {"transform": [{"filter": "datum.k == 'line'"}], "mark": {"type": "rule", "color": "#444", "strokeWidth": 1}, "encoding": {"x2": {"field": "x2"}, "y2": {"field": "y2"}}},
       {"transform": [{"filter": "datum.k == 'site'"}], "mark": {"type": "rule", "color": "#000", "strokeWidth": 2.2}, "encoding": {"x2": {"field": "x2"}, "y2": {"field": "y2"}}},
       {"transform": [{"filter": "datum.k == 'thin'"}], "mark": {"type": "rule", "color": "#000", "strokeWidth": 1}, "encoding": {"x2": {"field": "x2"}, "y2": {"field": "y2"}}},
       {"transform": [{"filter": "datum.k == 'arrow'"}], "mark": {"type": "rule", "color": "#333", "strokeWidth": 1}, "encoding": {"y2": {"field": "y2"}}},
       {"transform": [{"filter": "datum.k == 'head'"}], "mark": {"type": "point", "shape": "triangle-up", "filled": true, "color": "#000", "size": 40}},
       {"transform": [{"filter": "datum.k == 'box'"}], "mark": {"type": "rect", "filled": false, "stroke": "#000", "strokeWidth": 0.8}, "encoding": {"x2": {"field": "x2"}, "y2": {"field": "y2"}}},
       {"transform": [{"filter": "datum.k == 'brk'"}], "mark": {"type": "text", "fontSize": 10, "fontStyle": "italic", "color": "#000"}, "encoding": {"text": {"field": "t"}}},
       {"transform": [{"filter": "datum.k == 'lab'"}], "mark": {"type": "text", "fontSize": 11.5, "fontWeight": "bold", "color": "#111"}, "encoding": {"text": {"field": "t"}}},
       {"transform": [{"filter": "datum.k == 'gene'"}], "mark": {"type": "text", "fontSize": 11, "fontStyle": "italic", "color": "#333"}, "encoding": {"text": {"field": "t"}}}
      ]
     }
    ]
   },
   {
    "title": {"text": "E", "subtitle": ["ChIP-qPCR", "\u00a0\u00a0\u00a0\u00a0\u00a0\u00a0MEEC cell line"], "anchor": "start", "fontSize": 17, "fontWeight": "bold", "subtitleFontSize": 13.5, "subtitleLineHeight": 19, "subtitlePadding": 8, "offset": 10, "dx": 2},
    "spacing": 11,
    "vconcat": [
     {
      "title": {"text": "Fold enrichment normalised to miLacZ cells", "orient": "left", "anchor": "middle", "fontSize": 12.5, "color": "#666", "offset": 4},
      "spacing": 0,
      "vconcat": [
       {
        "width": 297, "height": 86,
        "title": {"text": "H3K27me3 occupancy", "anchor": "start", "frame": "group", "offset": -22, "dx": 5, "fontSize": 11},
        "data": {"name": "chip"}, "transform": [{"filter": "datum.p == 'EK27'"}],
        "encoding": {
         "x": {"field": "g", "type": "nominal", "scale": {"domain": ["-135.0", "-117.0", "-95.0", "-87.3", "gap", "+16.2", "+23.8", "+28.0", "+33.4", "+38.9", "+42.5"], "paddingInner": 0.15, "paddingOuter": 0.03}, "axis": {"title": null, "labels": false, "ticks": false}},
         "xOffset": {"field": "s", "type": "nominal", "scale": {"domain": ["miLacZ", "miCTCF", "miSa2", "miRad21"], "paddingInner": 0.2}},
         "y": {"field": "v", "type": "quantitative", "scale": {"domain": [0, 8.9]}, "axis": {"values": [2, 4, 6, 8], "title": null}}
        },
        "layer": [
         {"mark": {"type": "bar", "stroke": "#666", "strokeWidth": 0.6}, "encoding": {"color": {"field": "s", "type": "nominal", "scale": {"domain": ["miLacZ", "miCTCF", "miSa2", "miRad21"], "range": ["#ffffff", "#6d6d6d", "#a9a9a9", "#d9d9d9"]}, "legend": {"orient": "none", "legendX": 59, "legendY": -23, "direction": "horizontal", "title": null, "symbolType": "square", "symbolSize": 80, "symbolStrokeColor": "#666", "symbolStrokeWidth": 0.8, "labelFontStyle": "italic", "labelFontSize": 11, "labelColor": "#333", "labelOffset": 3, "columnPadding": 8}}}},
         {"mark": {"type": "errorbar", "ticks": {"size": 4}, "thickness": 0.8, "color": "#333"}, "encoding": {"yError": {"field": "e"}}}
        ]
       },
       {
        "width": 297, "height": 90,
        "title": {"text": "H3K4me3 occupancy", "anchor": "start", "frame": "group", "offset": -20, "dx": 5, "fontSize": 11},
        "data": {"name": "chip"}, "transform": [{"filter": "datum.p == 'EK4'"}],
        "encoding": {
         "x": {"field": "g", "type": "nominal", "scale": {"domain": ["-135.0", "-117.0", "-95.0", "-87.3", "gap", "+16.2", "+23.8", "+28.0", "+33.4", "+38.9", "+42.5"], "paddingInner": 0.15, "paddingOuter": 0.03}, "axis": {"title": null, "labels": false, "ticks": false}},
         "xOffset": {"field": "s", "type": "nominal", "scale": {"domain": ["miLacZ", "miCTCF", "miSa2", "miRad21"], "paddingInner": 0.2}},
         "y": {"field": "v", "type": "quantitative", "scale": {"domain": [0, 2.1]}, "axis": {"values": [1, 2], "title": null}}
        },
        "layer": [
         {"mark": {"type": "bar", "stroke": "#666", "strokeWidth": 0.6}, "encoding": {"color": {"field": "s", "type": "nominal", "scale": {"domain": ["miLacZ", "miCTCF", "miSa2", "miRad21"], "range": ["#ffffff", "#6d6d6d", "#a9a9a9", "#d9d9d9"]}}}},
         {"mark": {"type": "errorbar", "ticks": {"size": 4}, "thickness": 0.8, "color": "#333"}, "encoding": {"yError": {"field": "e"}}}
        ]
       },
       {
        "width": 297, "height": 90,
        "title": {"text": "H3Ac occupancy", "anchor": "start", "frame": "group", "offset": -26, "dx": 5, "fontSize": 11},
        "data": {"name": "chip"}, "transform": [{"filter": "datum.p == 'EAc'"}],
        "encoding": {
         "x": {"field": "g", "type": "nominal", "scale": {"domain": ["-135.0", "-117.0", "-95.0", "-87.3", "gap", "+16.2", "+23.8", "+28.0", "+33.4", "+38.9", "+42.5"], "paddingInner": 0.15, "paddingOuter": 0.03}, "axis": {"title": "(kb)", "labelAngle": -90, "ticks": false, "labelFontSize": 10.5, "labelColor": "#222", "labelPadding": 4, "labelExpr": "datum.value == 'gap' ? '' : datum.value", "titleAngle": 0, "titleX": 302, "titleY": 19, "titleAlign": "left", "titleBaseline": "middle", "titleColor": "#222", "titleFontSize": 11.5}},
         "xOffset": {"field": "s", "type": "nominal", "scale": {"domain": ["miLacZ", "miCTCF", "miSa2", "miRad21"], "paddingInner": 0.2}},
         "y": {"field": "v", "type": "quantitative", "scale": {"domain": [0, 2.1]}, "axis": {"values": [1, 2], "title": null}}
        },
        "layer": [
         {"mark": {"type": "bar", "stroke": "#666", "strokeWidth": 0.6}, "encoding": {"color": {"field": "s", "type": "nominal", "scale": {"domain": ["miLacZ", "miCTCF", "miSa2", "miRad21"], "range": ["#ffffff", "#6d6d6d", "#a9a9a9", "#d9d9d9"]}}}},
         {"mark": {"type": "errorbar", "ticks": {"size": 4}, "thickness": 0.8, "color": "#333"}, "encoding": {"yError": {"field": "e"}}}
        ]
       }
      ]
     },
     {
      "width": 297, "height": 45,
      "data": {"name": "diag"},
      "encoding": {
       "x": {"field": "x", "type": "quantitative", "scale": {"domain": [0, 11]}, "axis": null},
       "y": {"field": "y", "type": "quantitative", "scale": {"domain": [-4.6, 4.4]}, "axis": null}
      },
      "layer": [
       {"transform": [{"filter": "datum.k == 'line'"}], "mark": {"type": "rule", "color": "#444", "strokeWidth": 1}, "encoding": {"x2": {"field": "x2"}, "y2": {"field": "y2"}}},
       {"transform": [{"filter": "datum.k == 'site'"}], "mark": {"type": "rule", "color": "#000", "strokeWidth": 2.2}, "encoding": {"x2": {"field": "x2"}, "y2": {"field": "y2"}}},
       {"transform": [{"filter": "datum.k == 'thin'"}], "mark": {"type": "rule", "color": "#000", "strokeWidth": 1}, "encoding": {"x2": {"field": "x2"}, "y2": {"field": "y2"}}},
       {"transform": [{"filter": "datum.k == 'arrow'"}], "mark": {"type": "rule", "color": "#333", "strokeWidth": 1}, "encoding": {"y2": {"field": "y2"}}},
       {"transform": [{"filter": "datum.k == 'head'"}], "mark": {"type": "point", "shape": "triangle-up", "filled": true, "color": "#000", "size": 40}},
       {"transform": [{"filter": "datum.k == 'box'"}], "mark": {"type": "rect", "filled": false, "stroke": "#000", "strokeWidth": 0.8}, "encoding": {"x2": {"field": "x2"}, "y2": {"field": "y2"}}},
       {"transform": [{"filter": "datum.k == 'brk'"}], "mark": {"type": "text", "fontSize": 10, "fontStyle": "italic", "color": "#000"}, "encoding": {"text": {"field": "t"}}},
       {"transform": [{"filter": "datum.k == 'lab'"}], "mark": {"type": "text", "fontSize": 11.5, "fontWeight": "bold", "color": "#111"}, "encoding": {"text": {"field": "t"}}},
       {"transform": [{"filter": "datum.k == 'gene'"}], "mark": {"type": "text", "fontSize": 11, "fontStyle": "italic", "color": "#333"}, "encoding": {"text": {"field": "t"}}}
      ]
     }
    ]
   }
  ]
 },
 {
  "spacing": 21,
  "resolve": {"scale": {"color": "independent", "xOffset": "independent"}, "legend": {"color": "independent"}},
  "hconcat": [
   {"width": 1, "height": 1, "data": {"values": [{"a": 1}]}, "mark": {"type": "point", "opacity": 0}, "encoding": {}},
   {
    "spacing": 32,
    "resolve": {"scale": {"color": "independent", "xOffset": "independent"}, "legend": {"color": "independent"}},
    "hconcat": [
     {
      "spacing": 3,
      "resolve": {"scale": {"xOffset": "independent"}},
      "hconcat": [
       {
        "spacing": 0,
        "resolve": {"scale": {"xOffset": "independent"}},
        "hconcat": [
         {
          "width": 42, "height": 71,
          "title": {"text": "F", "subtitle": ["RT-qPCR", "\u00a0\u00a0M15 cell line"], "anchor": "start", "fontSize": 17, "fontWeight": "bold", "subtitleFontSize": 13.5, "subtitleLineHeight": 17, "subtitlePadding": 22, "offset": 27},
          "data": {"name": "rt"}, "transform": [{"filter": "datum.p == 'FW'"}],
          "encoding": {
           "x": {"field": "g", "type": "nominal", "scale": {"paddingInner": 0, "paddingOuter": 0.05}, "axis": {"title": null, "labelAngle": 0, "ticks": false, "labelFontStyle": "italic", "labelFontSize": 11, "labelColor": "#222", "labelPadding": 4}},
           "xOffset": {"field": "s", "type": "nominal", "scale": {"domain": ["miLacZ", "miWt1", "miCTCF"], "paddingInner": 0.35, "paddingOuter": 0.2}},
           "y": {"field": "v", "type": "quantitative", "scale": {"domain": [0, 20]}, "axis": {"values": [4, 8, 12, 16, 20], "title": ["Enrichment", "over Gapdh"], "titleLineHeight": 13}}
          },
          "layer": [
           {"mark": {"type": "bar", "stroke": "#666", "strokeWidth": 0.6}, "encoding": {"color": {"field": "s", "type": "nominal", "scale": {"domain": ["miLacZ", "miWt1", "miCTCF", "miRad21", "miSa2"], "range": ["#ffffff", "#4f4f4f", "#7e7e7e", "#b4b4b4", "#e2e2e2"]}, "legend": {"orient": "none", "legendX": 45, "legendY": -15, "direction": "horizontal", "title": null, "symbolType": "square", "symbolSize": 80, "symbolStrokeColor": "#666", "symbolStrokeWidth": 0.8, "labelFontStyle": "italic", "labelFontSize": 11, "labelColor": "#333", "labelOffset": 5, "columnPadding": 2}}}},
           {"mark": {"type": "errorbar", "ticks": {"size": 4}, "thickness": 0.8, "color": "#333"}, "encoding": {"yError": {"field": "e"}}}
          ]
         },
         {
          "width": 134, "height": 71,
          "data": {"name": "rt"}, "transform": [{"filter": "datum.p == 'FZ'"}],
          "encoding": {
           "x": {"field": "g", "type": "nominal", "sort": ["Zbt40", "Cdc42"], "scale": {"paddingInner": 0.15, "paddingOuter": 0.05}, "axis": {"title": null, "labelAngle": 0, "ticks": false, "labelFontStyle": "italic", "labelFontSize": 11, "labelColor": "#222", "labelPadding": 4}},
           "xOffset": {"field": "s", "type": "nominal", "scale": {"domain": ["miLacZ", "miWt1", "miCTCF", "miRad21", "miSa2"], "paddingInner": 0.3}},
           "y": {"field": "v", "type": "quantitative", "scale": {"domain": [0, 10.8]}, "axis": {"values": [2, 4, 6, 8, 10], "title": null}}
          },
          "layer": [
           {"mark": {"type": "bar", "stroke": "#666", "strokeWidth": 0.6}, "encoding": {"color": {"field": "s", "type": "nominal", "scale": {"domain": ["miLacZ", "miWt1", "miCTCF", "miRad21", "miSa2"], "range": ["#ffffff", "#4f4f4f", "#7e7e7e", "#b4b4b4", "#e2e2e2"]}}}},
           {"mark": {"type": "errorbar", "ticks": {"size": 4}, "thickness": 0.8, "color": "#333"}, "encoding": {"yError": {"field": "e"}}}
          ]
         }
        ]
       },
       {
        "spacing": 4,
        "resolve": {"scale": {"xOffset": "independent"}},
        "hconcat": [
         {
          "width": 45, "height": 71,
          "title": {"text": "G", "subtitle": ["RT-qPCR", "\u00a0\u00a0MEEC cell line"], "anchor": "start", "fontSize": 17, "fontWeight": "bold", "subtitleFontSize": 13.5, "subtitleLineHeight": 20, "subtitlePadding": 15, "offset": 26},
          "data": {"name": "rt"}, "transform": [{"filter": "datum.p == 'GW'"}],
          "encoding": {
           "x": {"field": "g", "type": "nominal", "scale": {"paddingInner": 0, "paddingOuter": 0.05}, "axis": {"title": null, "labelAngle": 0, "ticks": false, "labelFontStyle": "italic", "labelFontSize": 11, "labelColor": "#222", "labelPadding": 4}},
           "xOffset": {"field": "s", "type": "nominal", "scale": {"domain": ["miLacZ", "miWt1", "miCTCF"], "paddingInner": 0.35, "paddingOuter": 0.2}},
           "y": {"field": "v", "type": "quantitative", "scale": {"domain": [0, 14.9]}, "axis": {"values": [2, 6, 10, 14], "title": null}}
          },
          "layer": [
           {"mark": {"type": "bar", "stroke": "#666", "strokeWidth": 0.6}, "encoding": {"color": {"field": "s", "type": "nominal", "scale": {"domain": ["miLacZ", "miWt1", "miCTCF", "miRad21", "miSa2"], "range": ["#ffffff", "#4f4f4f", "#7e7e7e", "#b4b4b4", "#e2e2e2"]}}}},
           {"mark": {"type": "errorbar", "ticks": {"size": 4}, "thickness": 0.8, "color": "#333"}, "encoding": {"yError": {"field": "e"}}}
          ]
         },
         {
          "width": 134, "height": 71,
          "data": {"name": "rt"}, "transform": [{"filter": "datum.p == 'GZ'"}],
          "encoding": {
           "x": {"field": "g", "type": "nominal", "sort": ["Zbt40", "Cdc42"], "scale": {"paddingInner": 0.15, "paddingOuter": 0.05}, "axis": {"title": null, "labelAngle": 0, "ticks": false, "labelFontStyle": "italic", "labelFontSize": 11, "labelColor": "#222", "labelPadding": 4}},
           "xOffset": {"field": "s", "type": "nominal", "scale": {"domain": ["miLacZ", "miWt1", "miCTCF", "miRad21", "miSa2"], "paddingInner": 0.3}},
           "y": {"field": "v", "type": "quantitative", "scale": {"domain": [0, 7.47]}, "axis": {"values": [2, 4, 6], "title": null}}
          },
          "layer": [
           {"mark": {"type": "bar", "stroke": "#666", "strokeWidth": 0.6}, "encoding": {"color": {"field": "s", "type": "nominal", "scale": {"domain": ["miLacZ", "miWt1", "miCTCF", "miRad21", "miSa2"], "range": ["#ffffff", "#4f4f4f", "#7e7e7e", "#b4b4b4", "#e2e2e2"]}}}},
           {"mark": {"type": "errorbar", "ticks": {"size": 4}, "thickness": 0.8, "color": "#333"}, "encoding": {"yError": {"field": "e"}}}
          ]
         }
        ]
       }
      ]
     },
     {
      "title": {"text": "H", "subtitle": ["RT-qPCR", "\u00a0\u00a0GFP-sorted primary cells"], "anchor": "start", "fontSize": 17, "fontWeight": "bold", "subtitleFontSize": 13.5, "subtitleLineHeight": 22, "subtitlePadding": 14, "offset": 4},
      "vconcat": [
       {
        "title": {"text": ["In vivo expression in Wt1 null cells normalised", "to that in Wt1+ cells"], "anchor": "start", "fontSize": 9.5, "lineHeight": 12, "color": "#333", "offset": 2},
        "spacing": 1,
        "hconcat": [
         {
          "width": 50, "height": 86,
          "title": {"text": "Kidney", "anchor": "middle", "frame": "group", "fontSize": 11, "offset": -23},
          "data": {"name": "hd"}, "transform": [{"filter": "datum.p == 'Kidney'"}],
          "encoding": {
           "x": {"field": "g", "type": "nominal", "sort": ["Zbt40", "Wnt4", "Cdc42"], "scale": {"paddingInner": 0.4, "paddingOuter": 0.2}, "axis": {"title": null, "labelAngle": -60, "ticks": false, "labelFontStyle": "italic", "labelFontSize": 11, "labelColor": "#222", "labelPadding": 3}},
           "y": {"field": "v", "type": "quantitative", "scale": {"domain": [0, 1.61]}, "axis": {"values": [0.2, 0.4, 0.6, 0.8, 1.0, 1.2], "format": ".1f", "title": ["Fold", "induction"], "titleLineHeight": 14}}
          },
          "layer": [
           {"mark": {"type": "bar", "color": "#9d9d9d", "stroke": "#777", "strokeWidth": 0.6}},
           {"mark": {"type": "errorbar", "ticks": {"size": 5}, "thickness": 0.8, "color": "#333"}, "encoding": {"yError": {"field": "e"}}}
          ]
         },
         {
          "width": 65, "height": 86,
          "title": {"text": "Epicardium", "anchor": "middle", "frame": "group", "fontSize": 11, "offset": -23, "dx": 8},
          "data": {"name": "hd"}, "transform": [{"filter": "datum.p == 'Epicardium'"}],
          "encoding": {
           "x": {"field": "g", "type": "nominal", "sort": ["Zbt40", "Wnt4", "Cdc42"], "scale": {"paddingInner": 0.45, "paddingOuter": 0.2}, "axis": {"title": null, "labelAngle": -60, "ticks": false, "labelFontStyle": "italic", "labelFontSize": 11, "labelColor": "#222", "labelPadding": 3}},
           "y": {"field": "v", "type": "quantitative", "scale": {"domain": [0, 7.82]}, "axis": {"values": [1, 2, 3, 4, 5, 6], "title": null}}
          },
          "layer": [
           {"mark": {"type": "bar", "color": "#9d9d9d", "stroke": "#777", "strokeWidth": 0.6}},
           {"mark": {"type": "errorbar", "ticks": {"size": 5}, "thickness": 0.8, "color": "#333"}, "encoding": {"yError": {"field": "e"}}}
          ]
         }
        ]
       }
      ]
     }
    ]
   }
  ]
 }
]
}
